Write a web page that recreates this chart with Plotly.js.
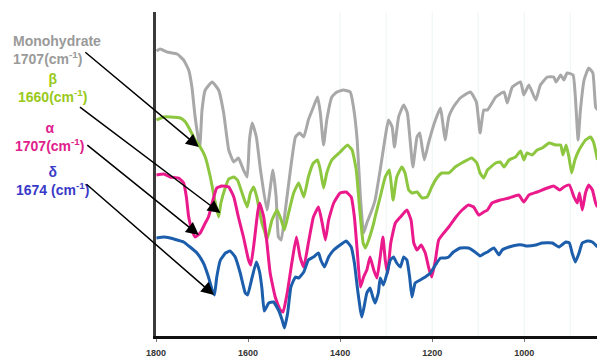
<!DOCTYPE html>
<html><head><meta charset="utf-8">
<script src="https://cdn.plot.ly/plotly-3.0.1.min.js"></script>
<style>html,body{margin:0;padding:0;background:#fff}#chart{width:597px;height:358px}</style>
</head><body><div id="chart"></div>
<script>
// Monohydrate (gray)
const grayWn = [1799,1791,1776,1754,1740,1729,1722,1715,1705,1700,1693,1678,1664,1653,1642,1631,1621,1610,1602,1597,1591,1582,1573,1559,1546,1539,1534,1528,1519,1508,1497,1488,1479,1469,1458,1449,1443,1436,1429,1418,1407,1393,1378,1371,1363,1356,1349,1342,1331,1324,1313,1302,1295,1287,1282,1273,1262,1254,1248,1242,1233,1227,1222,1217,1208,1193,1182,1177,1172,1164,1154,1139,1117,1104,1096,1088,1080,1062,1044,1037,1026,1008,1001,990,975,965,950,936,931,921,914,907,894,889,883,878,870,860,851,845,841];
const grayT = [287,289,286,284,278,268,251,221,191,228,248,256,248,225,188,176,180,168,161,198,215,201,168,128,168,141,101,98,128,168,201,205,201,218,231,241,225,193,218,241,246,248,246,231,198,141,105,115,128,138,168,201,218,211,191,221,233,225,198,171,201,205,191,178,195,218,230,215,198,221,231,240,246,236,205,228,228,241,246,235,251,256,243,253,238,253,261,261,256,263,258,265,263,241,198,228,258,270,265,231,228];
// beta (green)
const greenWn = [1799,1783,1769,1747,1736,1726,1715,1704,1693,1682,1671,1664,1659,1649,1642,1631,1623,1613,1602,1595,1588,1581,1570,1563,1559,1548,1537,1528,1521,1512,1501,1490,1479,1469,1458,1449,1443,1436,1429,1418,1400,1384,1374,1365,1358,1350,1345,1338,1327,1324,1313,1302,1293,1285,1277,1266,1259,1251,1244,1233,1222,1211,1201,1190,1179,1164,1150,1132,1114,1103,1096,1088,1080,1062,1052,1044,1033,1019,1008,1001,994,983,972,961,946,932,921,916,909,903,897,890,881,867,856,849,841];
const greenT = [218,221,221,220,216,208,198,191,181,161,135,121,135,151,159,161,158,145,131,145,151,141,115,105,98,118,128,118,108,125,145,155,141,161,175,178,168,150,165,178,186,193,188,168,131,95,90,98,115,121,141,161,168,138,161,171,165,148,145,146,140,141,151,160,165,165,171,176,180,175,165,160,168,175,176,171,178,181,187,178,185,183,188,190,195,193,193,183,193,181,165,178,188,198,201,195,178];
// alpha (magenta)
const pinkWn = [1799,1783,1769,1751,1740,1734,1729,1722,1715,1704,1693,1686,1678,1668,1657,1642,1631,1621,1610,1599,1594,1587,1579,1575,1566,1559,1552,1541,1530,1524,1515,1505,1495,1487,1479,1469,1458,1447,1439,1432,1425,1414,1400,1387,1376,1369,1363,1356,1349,1342,1335,1327,1320,1313,1307,1302,1297,1290,1280,1269,1255,1246,1240,1233,1224,1215,1208,1201,1193,1186,1175,1164,1150,1135,1121,1110,1099,1088,1080,1070,1052,1033,1012,1001,990,972,950,936,923,914,902,892,885,880,874,867,860,852,845,841];
const pinkT = [163,164,161,160,155,141,121,108,101,105,115,121,135,150,152,151,141,121,101,78,73,95,126,135,121,95,65,41,28,26,45,75,101,81,71,95,121,131,115,98,118,135,145,146,141,121,88,51,61,68,81,68,60,81,101,78,65,95,115,121,128,118,95,88,93,85,71,61,78,98,105,111,120,128,133,131,123,126,128,135,138,140,143,136,143,146,150,152,148,151,153,141,135,145,128,145,153,148,135,131];
// delta (blue)
const blueWn = [1799,1783,1769,1754,1740,1726,1711,1697,1686,1678,1673,1668,1660,1649,1639,1628,1617,1606,1601,1591,1582,1575,1570,1565,1561,1555,1545,1534,1526,1521,1514,1507,1497,1490,1479,1469,1458,1447,1442,1434,1425,1414,1400,1387,1376,1369,1362,1356,1353,1348,1342,1335,1329,1324,1317,1313,1306,1298,1291,1284,1277,1269,1262,1255,1249,1244,1237,1226,1215,1204,1193,1182,1172,1164,1154,1139,1121,1107,1096,1085,1080,1066,1055,1048,1033,1015,1004,994,975,961,939,925,910,902,896,889,881,874,863,852,841];
const blueT = [100,101,100,98,96,91,85,75,61,48,43,61,78,85,87,81,65,45,43,61,76,66,50,27,30,35,36,28,18,10,25,51,61,60,66,78,81,85,78,71,81,88,93,97,91,75,48,28,21,31,45,50,41,35,45,60,53,65,78,81,75,71,81,78,61,41,55,58,61,65,73,80,80,81,86,90,90,86,82,85,86,90,83,88,91,93,93,92,93,95,95,91,96,95,85,76,85,95,97,96,91];

const tickVals = [1800,1600,1400,1200,1000];
const tickText = ['1800','1600','1400','1200','1000'];
const gridWn = [1400,1300,1200,1100,1000,900];

const labelText = ['Monohydrate<br>1707(cm<sup>-1</sup>)','β<br>1660(cm<sup>-1</sup>)','α<br>1707(cm<sup>-1</sup>)','δ<br>1674 (cm<sup>-1</sup>)'];
const labelWn = [1707,1660,1707,1674];
const arrowTipT = [191,125,103,43];

const lineColors = ['#a8a8a8','#8dc63f','#ea1a8c','#1c5eab'];
const textColors = ['#9a9a9a','#99c91a','#e0208c','#3a3ac8'];
const textPos = [[-0.328,0.882,'left','left'],[-0.234,0.765,'center','center'],[-0.242,0.614,'center','center'],[-0.234,0.478,'center','center']];
const arrowOff = [[-115,-96],[-142,-107],[-113,-91],[-129,-112]];

const series = [[grayWn,grayT],[greenWn,greenT],[pinkWn,pinkT],[blueWn,blueT]];
const traces = series.map((s,i)=>({x:s[0],y:s[1],type:'scatter',mode:'lines',
  line:{color:lineColors[i],width:3,shape:'spline',smoothing:0.4},hoverinfo:'skip'}));

const annotations = [];
labelText.forEach((t,i)=>{
  annotations.push({xref:'paper',yref:'paper',x:textPos[i][0],y:textPos[i][1],
    xanchor:textPos[i][2],yanchor:'middle',align:textPos[i][3],text:t,showarrow:false,
    font:{family:'Arial, Liberation Sans, sans-serif',size:14,color:textColors[i],weight:'bold'}});
  annotations.push({xref:'x',yref:'y',x:labelWn[i],y:arrowTipT[i],text:'',showarrow:true,
    ax:arrowOff[i][0],ay:arrowOff[i][1],arrowhead:2,arrowsize:1.7,arrowwidth:1.5,arrowcolor:'#000'});
});

const shapes = gridWn.map(w=>({type:'line',xref:'x',yref:'paper',x0:w,x1:w,y0:0,y1:1,
  line:{color:'#edf5f3',width:1},layer:'below'}));

const layout = {
  width:597,height:358,margin:{l:156,r:0,t:12,b:22},
  paper_bgcolor:'#fff',plot_bgcolor:'#fff',showlegend:false,
  xaxis:{range:[1800,842],tickvals:tickVals,ticktext:tickText,showgrid:false,zeroline:false,
    showline:true,linecolor:'#111',linewidth:3,ticks:'outside',ticklen:3,tickcolor:'#777',
    ticklabelstandoff:3,
    tickfont:{family:'Arial, Liberation Sans, sans-serif',size:9,color:'#333',weight:'bold'}},
  yaxis:{range:[2,326],showgrid:false,zeroline:false,showticklabels:false,ticks:'',
    showline:true,linecolor:'#3a3a3a',linewidth:3},
  annotations:annotations,shapes:shapes
};
Plotly.newPlot('chart',traces,layout,{staticPlot:true,displayModeBar:false});
</script></body></html>
